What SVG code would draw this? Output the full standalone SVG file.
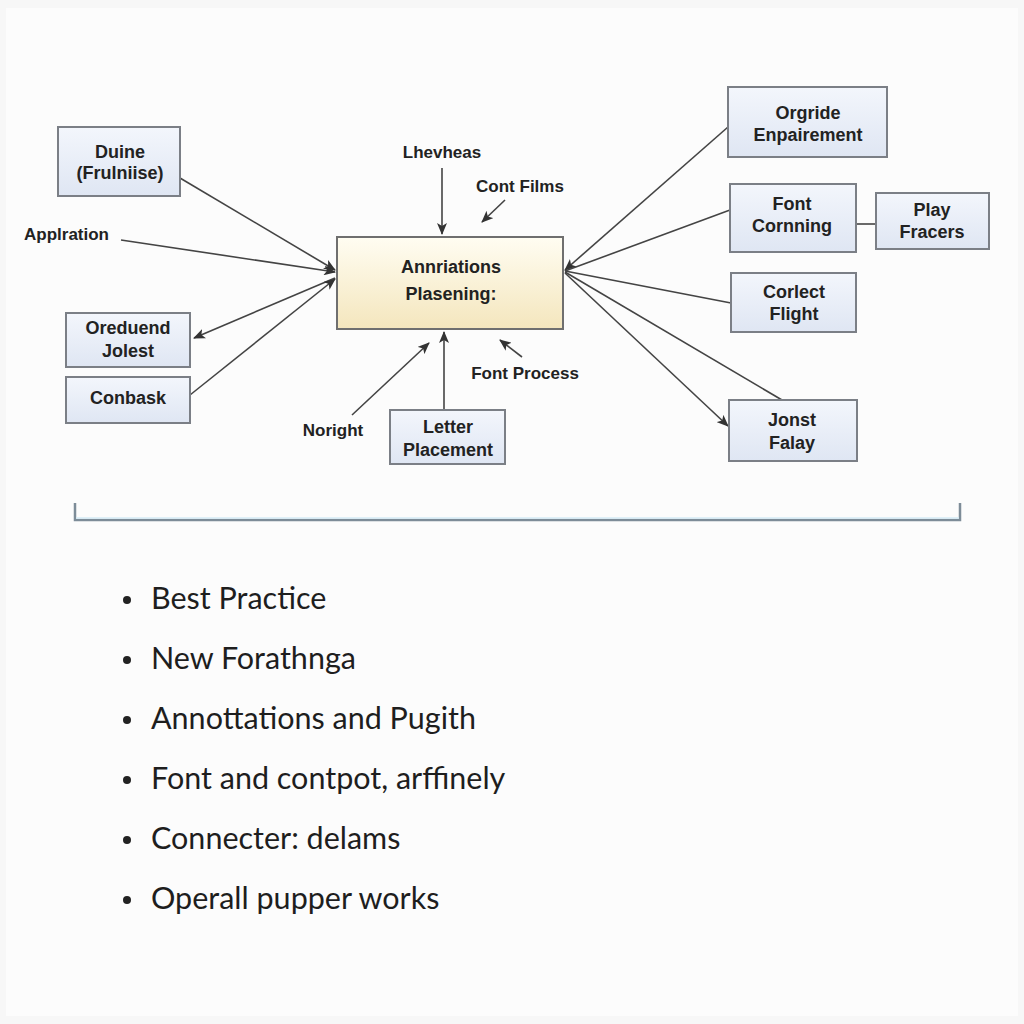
<svg xmlns="http://www.w3.org/2000/svg" width="1024" height="1024" viewBox="0 0 1024 1024">
<defs>
<linearGradient id="gb" x1="0" y1="0" x2="0" y2="1"><stop offset="0" stop-color="#f3f6fc"/><stop offset="1" stop-color="#dfe6f3"/></linearGradient>
<linearGradient id="gc" x1="0" y1="0" x2="0" y2="1"><stop offset="0" stop-color="#fffdf2"/><stop offset="1" stop-color="#f4e6bd"/></linearGradient>
<marker id="ah" viewBox="0 0 12 10" refX="11" refY="5" markerWidth="12" markerHeight="10" markerUnits="userSpaceOnUse" orient="auto"><path d="M0,0 L12,5 L0,10 L3,5 Z" fill="#333"/></marker>
<style>
.box{fill:url(#gb);stroke:#7b7f86;stroke-width:2}
.ctr{fill:url(#gc);stroke:#6f6f6f;stroke-width:2}
.t{font-family:"Liberation Sans",Arial,sans-serif;font-weight:bold;font-size:18px;fill:#222;text-anchor:middle}
.lb{font-family:"Liberation Sans",Arial,sans-serif;font-weight:bold;font-size:17px;fill:#222}
.c{fill:none;stroke:#444;stroke-width:1.6}
.bl{font-family:Lato,"Noto Sans",sans-serif;font-size:30.5px;fill:#1e1e1e}
</style>
</defs>
<rect width="1024" height="1024" fill="#f7f7f7"/>
<rect x="6" y="8" width="1012" height="1008" fill="#fcfcfc"/>
<g id="connectors">
<line class="c" x1="180" y1="178" x2="335" y2="270" marker-end="url(#ah)"/>
<line class="c" x1="121" y1="240" x2="335" y2="272" marker-end="url(#ah)"/>
<line class="c" x1="335" y1="278" x2="194" y2="338" marker-end="url(#ah)"/>
<line class="c" x1="190" y1="395" x2="335" y2="279" marker-end="url(#ah)"/>
<line class="c" x1="442" y1="168" x2="442" y2="234" marker-end="url(#ah)"/>
<line class="c" x1="505" y1="200" x2="482" y2="222" marker-end="url(#ah)"/>
<line class="c" x1="444" y1="410" x2="444" y2="332" marker-end="url(#ah)"/>
<line class="c" x1="352" y1="415" x2="429" y2="343" marker-end="url(#ah)"/>
<line class="c" x1="522" y1="357" x2="500" y2="340" marker-end="url(#ah)"/>
<line class="c" x1="728" y1="127" x2="565" y2="270" marker-end="url(#ah)"/>
<line class="c" x1="730" y1="210" x2="565" y2="271"/>
<line class="c" x1="731" y1="303" x2="565" y2="271"/>
<line class="c" x1="782" y1="400" x2="565" y2="272"/>
<line class="c" x1="565" y1="273" x2="728" y2="426" marker-end="url(#ah)"/>
<line class="c" x1="856" y1="224" x2="876" y2="224"/>
</g>
<g id="center"><rect class="ctr" x="337" y="237" width="226" height="92"/>
<text class="t" x="451" y="273" font-size="20.5">Annriations</text><text class="t" x="451" y="300" font-size="20.5">Plasening:</text></g>
<g id="duine"><rect class="box" x="58" y="127" width="122" height="69"/>
<text class="t" x="120" y="158">Duine</text><text class="t" x="120" y="179">(Frulniise)</text></g>
<g id="applration"><text class="lb" x="24" y="240">Applration</text></g>
<g id="oreduend"><rect class="box" x="66" y="313" width="124" height="54"/>
<text class="t" x="128" y="334">Oreduend</text><text class="t" x="128" y="357">Jolest</text></g>
<g id="conbask"><rect class="box" x="66" y="377" width="124" height="46"/>
<text class="t" x="128" y="404">Conbask</text></g>
<g id="lhevheas"><text class="lb" x="442" y="158" text-anchor="middle">Lhevheas</text></g>
<g id="contfilms"><text class="lb" x="520" y="192" text-anchor="middle">Cont Films</text></g>
<g id="fontprocess"><text class="lb" x="525" y="379" text-anchor="middle">Font Process</text></g>
<g id="noright"><text class="lb" x="333" y="436" text-anchor="middle">Noright</text></g>
<g id="letter"><rect class="box" x="390" y="410" width="115" height="54"/>
<text class="t" x="448" y="433">Letter</text><text class="t" x="448" y="456">Placement</text></g>
<g id="orgride"><rect class="box" x="728" y="87" width="159" height="70"/>
<text class="t" x="808" y="119">Orgride</text><text class="t" x="808" y="141">Enpairement</text></g>
<g id="fontcornning"><rect class="box" x="730" y="184" width="126" height="68"/>
<text class="t" x="792" y="210">Font</text><text class="t" x="792" y="232">Cornning</text></g>
<g id="play"><rect class="box" x="876" y="193" width="113" height="56"/>
<text class="t" x="932" y="216">Play</text><text class="t" x="932" y="238">Fracers</text></g>
<g id="corlect"><rect class="box" x="731" y="273" width="125" height="59"/>
<text class="t" x="794" y="298">Corlect</text><text class="t" x="794" y="320">Flight</text></g>
<g id="jonst"><rect class="box" x="729" y="400" width="128" height="61"/>
<text class="t" x="792" y="426">Jonst</text><text class="t" x="792" y="449">Falay</text></g>
<path d="M75,503 V520 H960 V503" fill="none" stroke="#7d8c98" stroke-width="2.5"/>
<path d="M76,518 H959" stroke="#d6ecf7" stroke-width="1.5"/>
<g id="bullets">
<circle cx="127" cy="600" r="4" fill="#222"/><text class="bl" x="151" y="609">Best Practice</text>
<circle cx="127" cy="660" r="4" fill="#222"/><text class="bl" x="151" y="669">New Forathnga</text>
<circle cx="127" cy="720" r="4" fill="#222"/><text class="bl" x="151" y="729">Annottations and Pugith</text>
<circle cx="127" cy="780" r="4" fill="#222"/><text class="bl" x="151" y="789">Font and contpot, arffinely</text>
<circle cx="127" cy="840" r="4" fill="#222"/><text class="bl" x="151" y="849">Connecter: delams</text>
<circle cx="127" cy="900" r="4" fill="#222"/><text class="bl" x="151" y="909">Operall pupper works</text>
</g>
</svg>
